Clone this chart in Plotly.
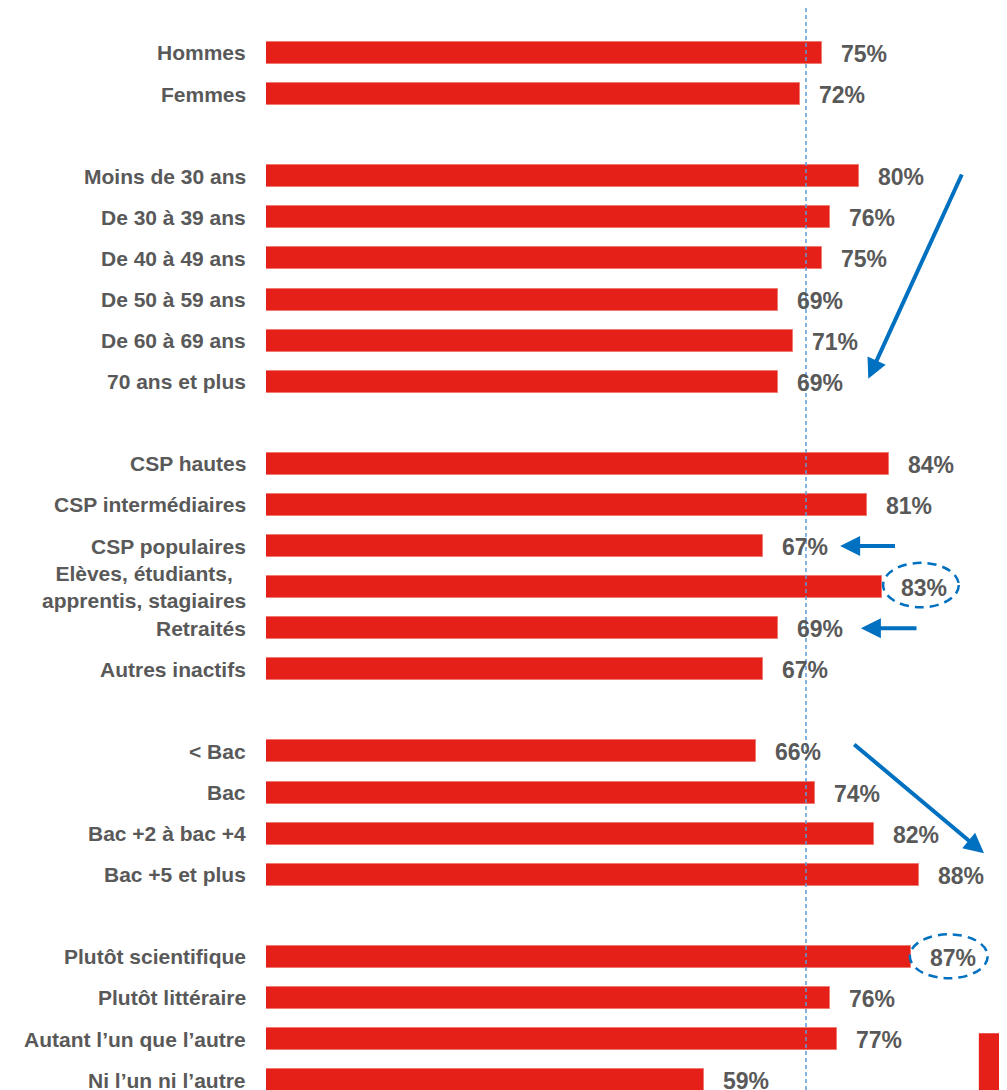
import plotly.graph_objects as go

# Data: share of respondents (%) by group
sexe_labels = ["Hommes", "Femmes"]
sexe_values = [75, 72]

age_labels = ["Moins de 30 ans", "De 30 à 39 ans", "De 40 à 49 ans",
              "De 50 à 59 ans", "De 60 à 69 ans", "70 ans et plus"]
age_values = [80, 76, 75, 69, 71, 69]

csp_labels = ["CSP hautes", "CSP intermédiaires", "CSP populaires",
              "Elèves, étudiants,<br>apprentis, stagiaires", "Retraités", "Autres inactifs"]
csp_values = [84, 81, 67, 83, 69, 67]

diplome_labels = ["< Bac", "Bac", "Bac +2 à bac +4", "Bac +5 et plus"]
diplome_values = [66, 74, 82, 88]

profil_labels = ["Plutôt scientifique", "Plutôt littéraire",
                 "Autant l’un que l’autre", "Ni l’un ni l’autre"]
profil_values = [87, 76, 77, 59]

moyenne = 72.8

groups = [(sexe_labels, sexe_values), (age_labels, age_values), (csp_labels, csp_values),
          (diplome_labels, diplome_values), (profil_labels, profil_values)]

# Build row positions: one empty row between groups
labels, values, rows = [], [], []
r = 0
for labs, vals in groups:
    for lab, v in zip(labs, vals):
        labels.append(lab)
        values.append(v)
        rows.append(r)
        r += 1
    r += 1

RED = "#E42019"
GREY = "#595959"
BLUE = "#0070C0"

fig = go.Figure(go.Bar(
    x=values, y=rows, orientation="h",
    width=0.535,
    marker=dict(color=RED, line=dict(color="#F07A72", width=1)),
    hoverinfo="skip",
))

# category labels and value labels
for lab, v, y in zip(labels, values, rows):
    fig.add_annotation(x=0, y=y, text="<b>%s</b>" % lab, showarrow=False,
                       xanchor="right", xshift=-18, align="center",
                       font=dict(family="Liberation Sans, Arial", size=21, color=GREY))
    fig.add_annotation(x=v, y=y, text="<b>%d%%</b>" % v, showarrow=False,
                       xanchor="left", xshift=17, yshift=-1,
                       font=dict(family="Liberation Sans, Arial", size=23, color=GREY))

# average line
fig.add_shape(type="line", x0=moyenne, x1=moyenne, y0=0, y1=1, yref="paper",
              line=dict(color="#5B9BD5", width=1.5, dash="4px,3px"))

# blue arrows
arrows = [((93.9, 2.92), (81.2, 7.93)),
          ((85.0, 12.0), (77.4, 12.0)),
          ((87.9, 14.0), (80.2, 14.0)),
          ((79.1, 16.8), (96.8, 19.48))]
for (tx, ty), (hx, hy) in arrows:
    fig.add_annotation(x=hx, y=hy, ax=tx, ay=ty, axref="x", ayref="y",
                       showarrow=True, arrowhead=2, arrowsize=1, arrowwidth=4,
                       arrowcolor=BLUE, text="")

# dashed ellipses
for x0, x1, y0, y1 in [(83.2, 93.4, 12.41, 13.49), (86.8, 97.3, 21.45, 22.52)]:
    fig.add_shape(type="circle", x0=x0, x1=x1, y0=y0, y1=y1,
                  line=dict(color=BLUE, width=2.5, dash="9px,6px"))

# corner logo fragment
fig.add_shape(type="rect", xref="paper", x0=0.962, x1=1.02, y0=23.86, y1=27,
              line_width=0, fillcolor=RED)
fig.add_shape(type="rect", xref="paper", x0=0.9906, x1=1.02, y0=24.37, y1=27,
              line_width=0, fillcolor="#808080")

fig.update_xaxes(range=[0, 99.9], visible=False, fixedrange=True)
fig.update_yaxes(range=[25.24, -1.095], visible=False, fixedrange=True)
fig.update_layout(
    width=999, height=1082,
    margin=dict(l=258, r=0, t=0, b=0),
    paper_bgcolor="white", plot_bgcolor="white",
    showlegend=False, bargap=0,
)

fig.write_html("out.html")
